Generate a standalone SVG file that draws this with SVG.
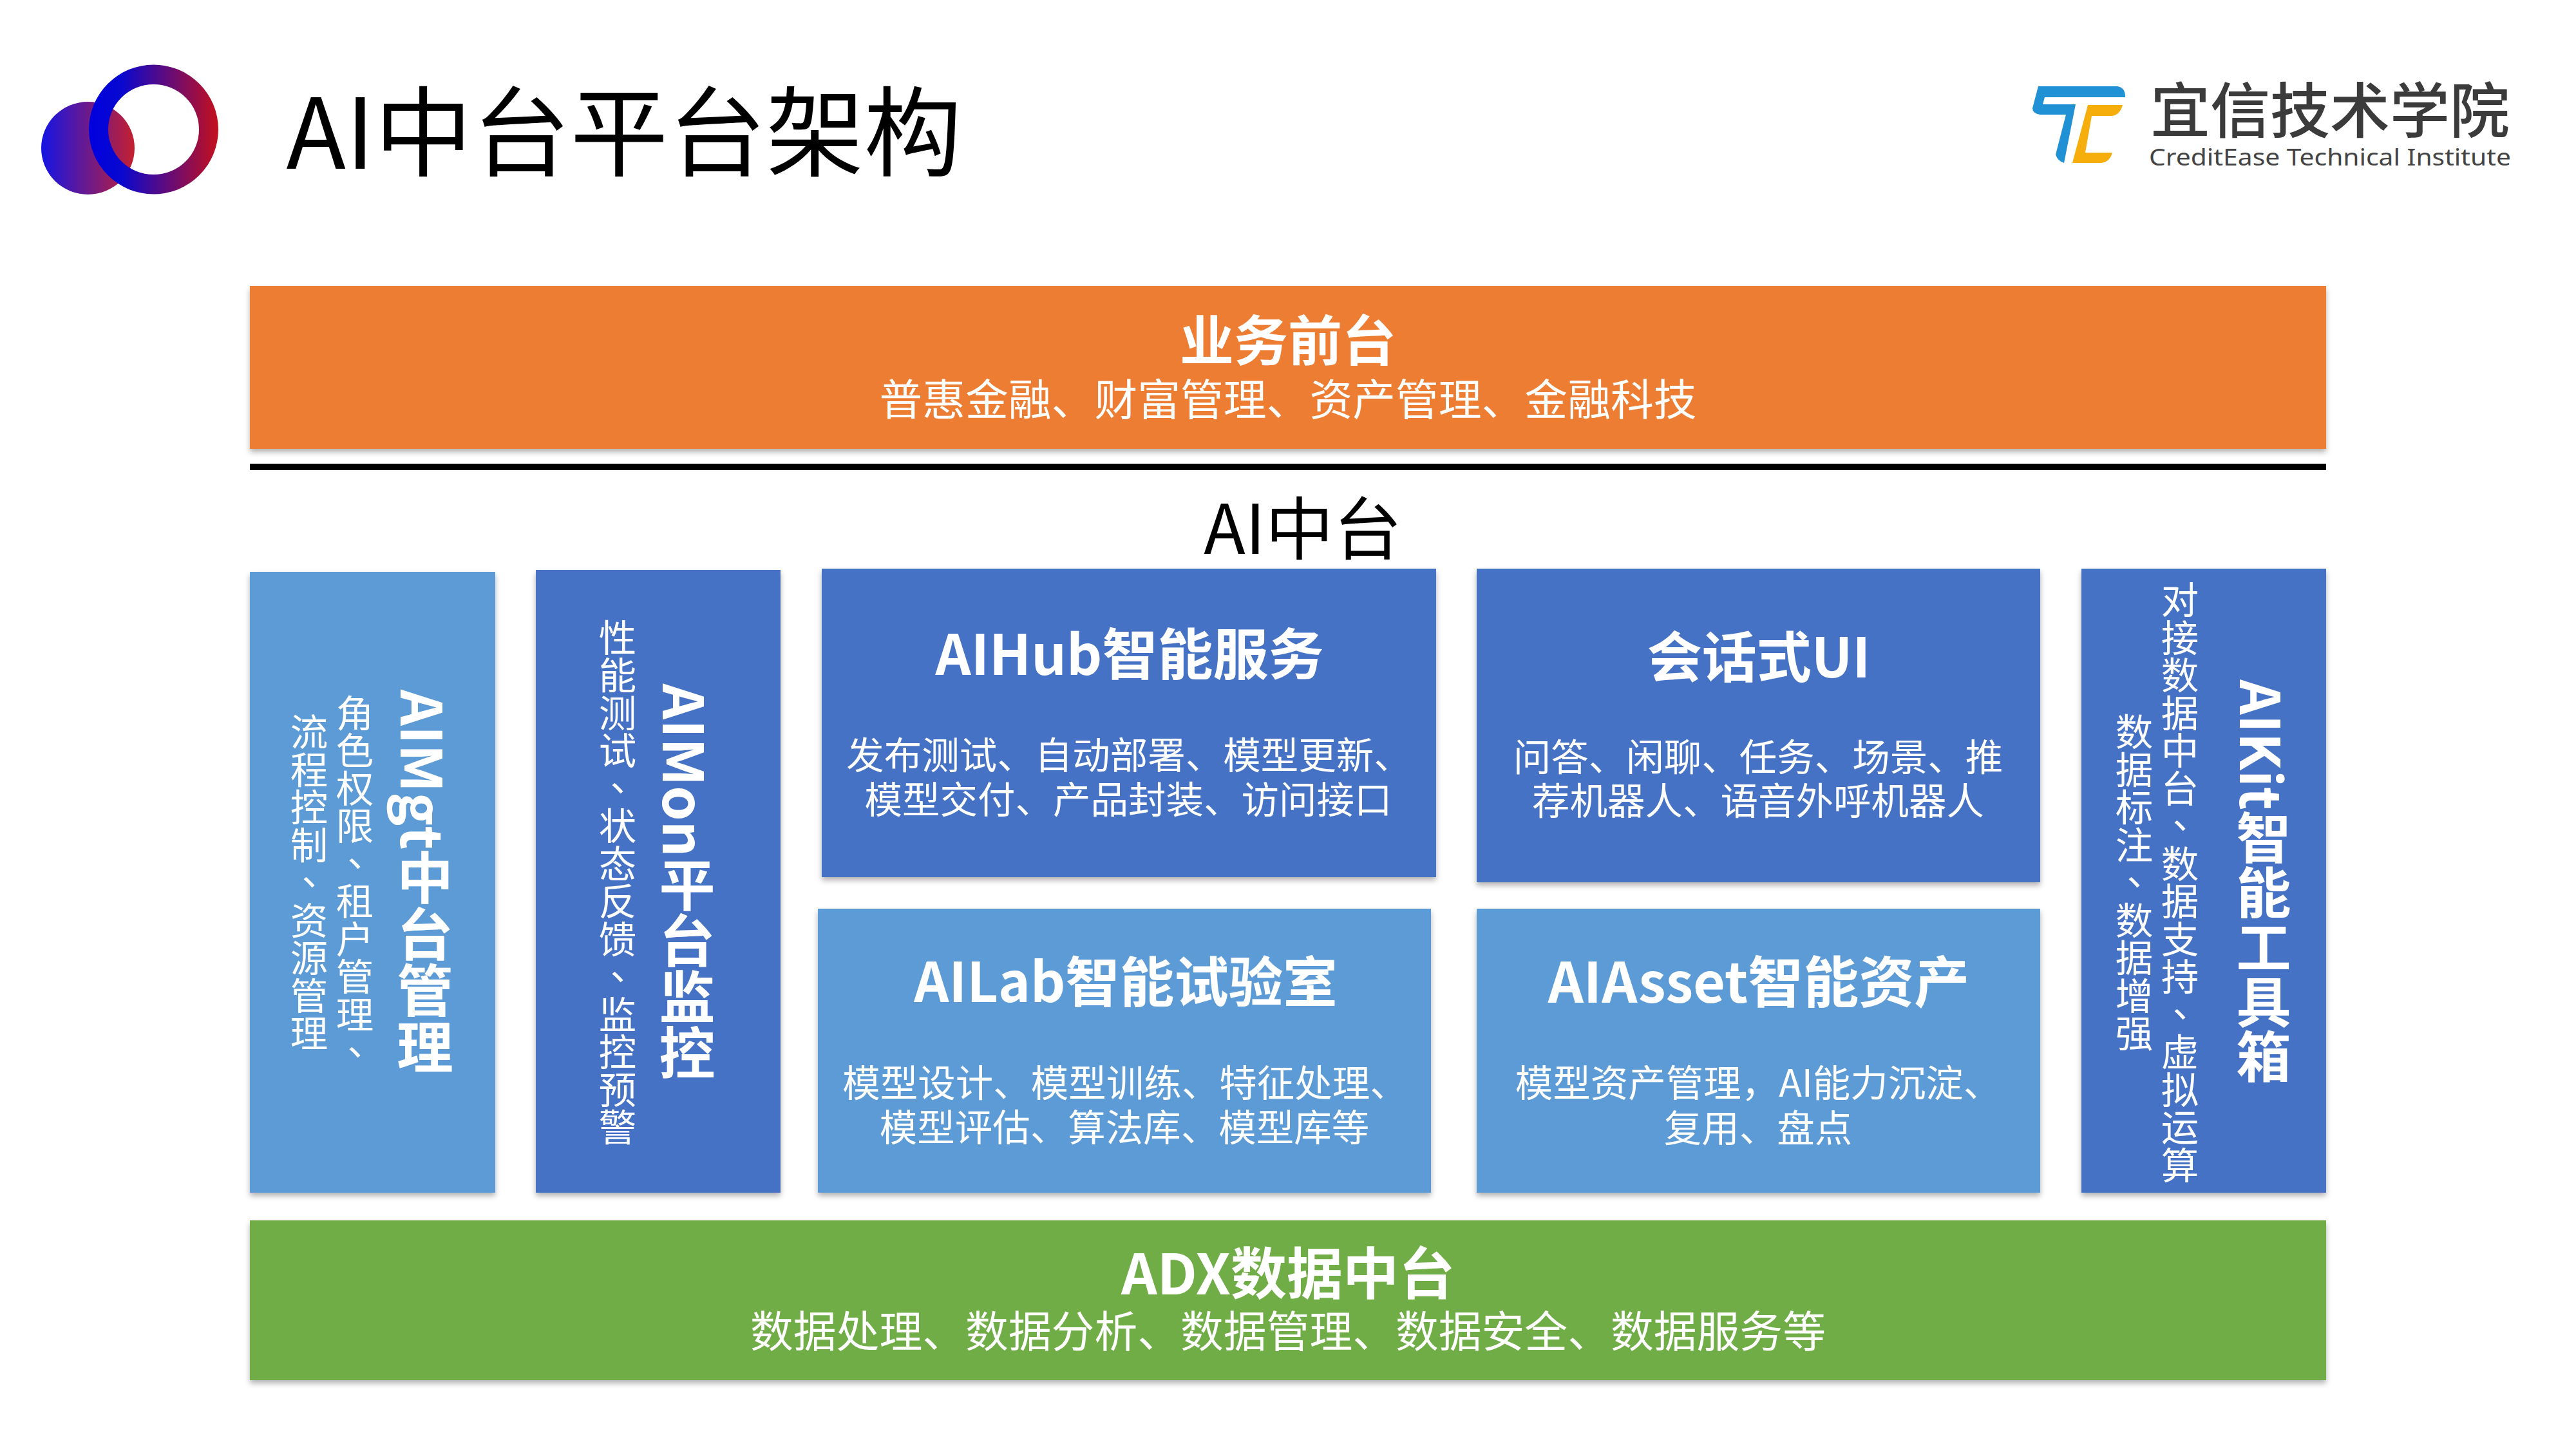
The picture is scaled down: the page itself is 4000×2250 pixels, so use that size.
<svg xmlns="http://www.w3.org/2000/svg" width="4000" height="2250" viewBox="0 0 4000 2250">
<style>
text{font-family:"Noto Sans CJK SC","Noto Sans",sans-serif;text-anchor:middle}
.w{fill:#fff}
.h{font-weight:700;font-size:84px}
.c{font-size:58.5px}
.s{font-size:66.8px}
.v{writing-mode:vertical-rl}
.p{font-family:"Noto Sans CJK TC",sans-serif}
.box{filter:url(#sh)}
.org{fill:#ED7D31}.blu{fill:#4472C4}.lit{fill:#5B9BD5}.grn{fill:#70AD47}
</style>
<defs>
<filter id="sh" x="-5%" y="-5%" width="110%" height="110%"><feDropShadow dx="0" dy="5" stdDeviation="4" flood-color="#000" flood-opacity=".3"/></filter>
<linearGradient id="g1" x1="0" x2="1" y1="0" y2="0"><stop offset="0" stop-color="#0000E0"/><stop offset=".25" stop-color="#0808D0"/><stop offset="1" stop-color="#C4101C"/></linearGradient>
<linearGradient id="g2" x1="0" x2="1" y1="0" y2="0"><stop offset="0" stop-color="#1414E6"/><stop offset="1" stop-color="#C42030"/></linearGradient>
</defs>
<g id="logo">
<ellipse cx="136.500" cy="230" rx="72.500" ry="72" fill="url(#g2)"/>
<path fill="url(#g1)" fill-rule="evenodd" d="M138 201a100.500 100.500 0 1 1 201 0a100.500 100.500 0 1 1-201 0zM168 201a70.500 70 0 1 0 141 0a70.500 70 0 1 0-141 0z"/>
</g>
<text id="title" x="969" y="262" style="font-size:152px">AI中台平台架构</text>
<g id="brand">
<path fill="#2191D6" d="M3165 134H3288Q3300 136 3300 150V151H3175L3172 162H3223L3205 253Q3195 250 3192 240L3208 178H3168Q3156 176 3156 168Z"/>
<path fill="#F5AE0C" d="M3242 163H3296Q3292 178 3280 180H3248L3238 237H3280Q3276 252 3262 253H3218Z"/>
<text x="3618" y="206" style="font-size:93px;font-weight:500;fill:#3B3B3B">宜信技术学院</text>
<text x="3618" y="257" textLength="562" lengthAdjust="spacingAndGlyphs" style="font-family:'Noto Sans',sans-serif;font-size:37px;fill:#444">CreditEase Technical Institute</text>
</g>
<g id="front">
<rect class="box org" x="388" y="444" width="3224" height="253"/>
<text class="w h" x="2000" y="560">业务前台</text>
<text class="w s" x="2000" y="645">普惠金融、财富管理、资产管理、金融科技</text>
</g>
<g id="connectors"><line x1="388" y1="725" x2="3612" y2="725" stroke="#000" stroke-width="10"/></g>
<text id="aizt" x="2023" y="860" style="font-size:106px">AI中台</text>
<g id="aimgt">
<rect class="box lit" x="388" y="888" width="381" height="964"/>
<text class="w h v" x="660" y="1370" style="font-size:87.500px">AIMgt中台管理</text>
<text class="w c v" x="551" y="1370">角色权限<tspan class="p">、</tspan>租户管理<tspan class="p">、</tspan></text>
<text class="w c v" x="480" y="1370">流程控制<tspan class="p">、</tspan>资源管理</text>
</g>
<g id="aimon">
<rect class="box blu" x="832" y="885" width="380" height="967"/>
<text class="w h v" x="1067" y="1370" style="font-size:87px">AIMon平台监控</text>
<text class="w c v" x="959" y="1370">性能测试<tspan class="p">、</tspan>状态反馈<tspan class="p">、</tspan>监控预警</text>
</g>
<g id="aihub">
<rect class="box blu" x="1276" y="883" width="954" height="479"/>
<text class="w h" x="1754" y="1048" style="font-size:86px">AIHub智能服务</text>
<text class="w c" x="1753" y="1194">发布测试、自动部署、模型更新、</text>
<text class="w c" x="1752" y="1263">模型交付、产品封装、访问接口</text>
</g>
<g id="ailab">
<rect class="box lit" x="1270" y="1411" width="952" height="441"/>
<text class="w h" x="1748" y="1556" style="font-size:84.500px">AILab智能试验室</text>
<text class="w c" x="1747" y="1703">模型设计、模型训练、特征处理、</text>
<text class="w c" x="1746" y="1772">模型评估、算法库、模型库等</text>
</g>
<g id="chatui">
<rect class="box blu" x="2293" y="883" width="875" height="487"/>
<text class="w h" x="2731" y="1052" style="font-size:85px">会话式UI</text>
<text class="w c" x="2730" y="1197">问答、闲聊、任务、场景、推</text>
<text class="w c" x="2730" y="1265">荐机器人、语音外呼机器人</text>
</g>
<g id="aiasset">
<rect class="box lit" x="2293" y="1411" width="875" height="441"/>
<text class="w h" x="2731" y="1557" style="font-size:86px">AIAsset智能资产</text>
<text class="w c" x="2730" y="1703">模型资产管理，AI能力沉淀、</text>
<text class="w c" x="2730" y="1773">复用、盘点</text>
</g>
<g id="aikit">
<rect class="box blu" x="3232" y="883" width="380" height="969"/>
<text class="w h v" x="3515" y="1369" style="font-size:85px">AIKit智能工具箱</text>
<text class="w c v" x="3385" y="1370">对接数据中台<tspan class="p">、</tspan>数据支持<tspan class="p">、</tspan>虚拟运算</text>
<text class="w c v" x="3314" y="1370">数据标注<tspan class="p">、</tspan>数据增强</text>
</g>
<g id="adx">
<rect class="box grn" x="388" y="1895" width="3224" height="248"/>
<text class="w h" x="2000" y="2010" style="font-size:87px">ADX数据中台</text>
<text class="w s" x="2000" y="2092">数据处理、数据分析、数据管理、数据安全、数据服务等</text>
</g>
</svg>
